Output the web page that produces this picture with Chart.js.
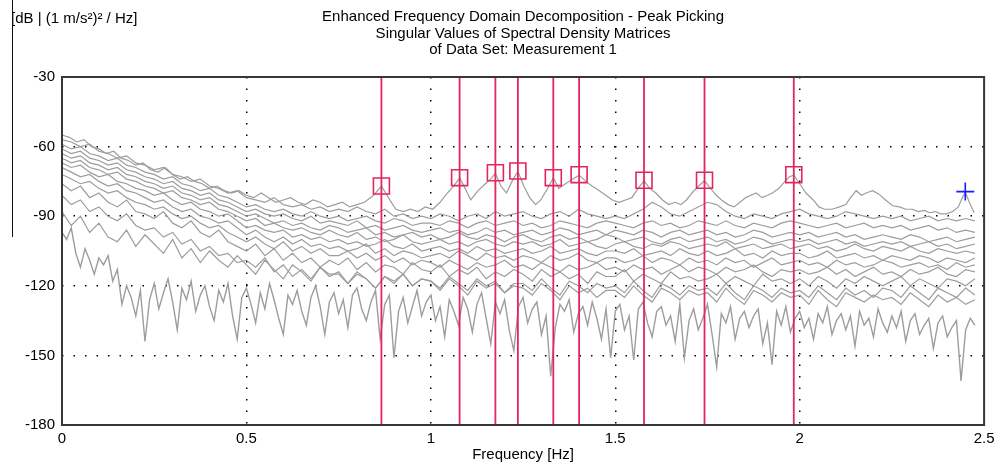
<!DOCTYPE html>
<html><head><meta charset="utf-8">
<script src="https://cdn.jsdelivr.net/npm/chart.js@4"></script>
<style>
html,body{margin:0;padding:0;background:#fff;}
#wrap{position:relative;width:997px;height:464px;}
#edge{position:absolute;left:12px;top:0;width:1px;height:237px;background:#111;}
</style>
</head><body>
<div id="wrap"><canvas id="c" width="997" height="464"></canvas><div id="edge"></div></div>
<script>
// ---------------- data ----------------
const titleLines = ['Enhanced Frequency Domain Decomposition - Peak Picking','Singular Values of Spectral Density Matrices','of Data Set: Measurement 1'];
const yUnitLabel = '[dB | (1 m/s\u00b2)\u00b2 / Hz]';
const xTitle = 'Frequency [Hz]';
const xTicks = [0, 0.5, 1, 1.5, 2, 2.5];
const yTicks = [-180, -150, -120, -90, -60, -30];

// picked peaks (red lines + squares)
const peakFreqs  = [0.866, 1.078, 1.175, 1.236, 1.332, 1.402, 1.578, 1.742, 1.984];
const peakLevels = [-77.0, -73.4, -71.3, -70.5, -73.4, -72.1, -74.5, -74.5, -72.1];
// cursor (blue cross)
const cursorFreq = [2.449];
const cursorLevel = [-79.4];

// first singular value
const sv1Freqs = [0,0.02,0.04,0.06,0.08,0.1,0.12,0.14,0.16,0.18,0.2,0.22,0.24,0.26,0.28,0.3,0.32,0.34,0.36,0.38,
0.4,0.42,0.44,0.46,0.48,0.5,0.52,0.54,0.56,0.58,0.6,0.62,0.64,0.66,0.68,0.7,0.72,0.74,0.76,0.78,
0.8,0.82,0.845,0.866,0.885,0.905,0.925,0.945,0.965,0.985,1.005,1.025,1.045,1.062,1.078,1.093,1.108,1.128,1.148,1.162,
1.175,1.19,1.205,1.22,1.236,1.252,1.268,1.284,1.298,1.313,1.332,1.347,1.365,1.385,1.402,1.42,1.437,1.457,1.474,1.492,
1.51,1.528,1.545,1.562,1.578,1.593,1.61,1.628,1.645,1.662,1.678,1.693,1.708,1.726,1.742,1.758,1.774,1.788,1.806,1.822,
1.838,1.854,1.868,1.882,1.898,1.913,1.926,1.944,1.96,1.972,1.984,2.0,2.017,2.037,2.052,2.068,2.088,2.108,2.125,2.138,
2.153,2.168,2.18,2.198,2.215,2.233,2.252,2.27,2.288,2.305,2.322,2.338,2.352,2.368,2.383,2.398,2.415,2.43,2.441,2.449,2.46,2.473];
const sv1 = [-55,-56,-58,-57,-60,-61,-63,-62,-65,-66,-68,-67,-70,-71,-69,-72,-74,-73,-75,-76,
-78,-77,-79,-80,-79,-81,-82,-80,-82,-84,-83,-82,-84,-85,-83,-84,-86,-85,-84,-86,
-85,-84,-81,-77,-82,-87,-88,-87,-88,-86,-87,-84,-80,-77,-73.5,-78,-83,-79,-76,-74,
-71.5,-77,-80,-75,-70.7,-77,-82,-85,-83,-79,-73.5,-78,-76,-74,-72.3,-75,-77,-79,-81,-83,
-84,-83,-82,-78,-74.7,-78,-80,-83,-85,-84,-85,-83,-80,-77,-74.7,-78,-81,-83,-85,-86,
-84,-82,-81,-80,-82,-81,-80,-78,-75,-73,-72.3,-76,-80,-83,-86,-87,-87,-86,-85,-82,
-79,-81,-80,-79,-80.5,-83,-85.5,-86,-87,-87,-88,-87.5,-88.5,-88,-89,-89,-88,-86,-82,-79.6,-84,-88.5];

// frequency bins of the other singular values
const freqs = [0,0.025,0.05,0.075,0.1,0.125,0.15,0.175,0.2,0.225,0.25,0.275,0.3,0.325,0.35,0.375,0.4,0.425,0.45,0.475,
0.5,0.525,0.55,0.575,0.6,0.625,0.65,0.675,0.7,0.725,0.75,0.775,0.8,0.825,0.85,0.875,0.9,0.925,0.95,0.975,
1,1.025,1.05,1.075,1.1,1.125,1.15,1.175,1.2,1.225,1.25,1.275,1.3,1.325,1.35,1.375,1.4,1.425,1.45,1.475,
1.5,1.525,1.55,1.575,1.6,1.625,1.65,1.675,1.7,1.725,1.75,1.775,1.8,1.825,1.85,1.875,1.9,1.925,1.95,1.975,
2,2.025,2.05,2.075,2.1,2.125,2.15,2.175,2.2,2.225,2.25,2.275,2.3,2.325,2.35,2.375,2.4,2.425,2.45,2.475];

const sv2 = [-57,-58,-60,-59,-62,-63,-65,-64,-67,-68,-70,-69,-72,-73,-75,-74,-77,-78,-80,-79,
-82,-83,-84,-82,-85,-86,-85,-87,-86,-88,-87,-88,-86,-88,-89,-87,-90,-89,-91,-90,
-91,-89,-90,-92,-90,-89,-91,-88,-90,-89,-88,-90,-91,-89,-88,-90,-87,-89,-90,-91,
-90,-91,-89,-87,-84,-86,-89,-90,-88,-86,-84,-85,-88,-90,-91,-89,-90,-91,-89,-88,
-87,-89,-90,-91,-90,-88,-89,-90,-91,-90,-91,-90,-92,-91,-90,-92,-91,-92,-91,-92];
const sv3 = [-59,-61,-60,-63,-64,-66,-65,-68,-69,-71,-72,-74,-73,-76,-77,-79,-78,-81,-82,-84,
-86,-85,-87,-88,-87,-89,-90,-88,-90,-91,-90,-92,-91,-90,-92,-93,-91,-92,-94,-93,
-93,-94,-92,-93,-95,-93,-92,-94,-93,-92,-94,-93,-95,-94,-92,-93,-94,-95,-93,-92,
-93,-94,-95,-93,-92,-94,-93,-95,-94,-92,-93,-94,-92,-94,-95,-93,-94,-95,-93,-92,
-93,-94,-95,-94,-93,-95,-94,-93,-95,-94,-95,-94,-96,-95,-94,-96,-95,-97,-96,-97];
const sv4 = [-61,-63,-62,-65,-66,-68,-67,-70,-71,-73,-74,-76,-75,-78,-79,-81,-80,-83,-84,-86,
-88,-87,-89,-90,-89,-91,-92,-90,-93,-92,-93,-94,-92,-95,-94,-96,-95,-94,-96,-97,
-96,-95,-97,-96,-98,-97,-95,-97,-96,-98,-97,-96,-98,-97,-95,-96,-98,-97,-96,-98,
-96,-97,-98,-96,-97,-99,-97,-96,-98,-97,-96,-98,-97,-99,-98,-96,-97,-99,-98,-97,
-98,-97,-99,-98,-97,-99,-98,-100,-99,-98,-99,-100,-98,-99,-101,-100,-99,-101,-100,-99];
const sv5 = [-63,-65,-64,-67,-68,-70,-69,-72,-73,-75,-76,-78,-77,-80,-81,-83,-82,-85,-86,-88,
-90,-89,-91,-93,-92,-94,-93,-95,-96,-94,-95,-97,-96,-95,-98,-97,-99,-98,-97,-99,
-98,-100,-99,-97,-99,-100,-98,-99,-101,-99,-98,-100,-101,-99,-98,-100,-99,-101,-100,-98,
-99,-101,-100,-99,-101,-102,-100,-99,-101,-100,-99,-101,-100,-102,-101,-99,-100,-102,-101,-100,
-101,-100,-102,-101,-100,-102,-101,-103,-102,-101,-102,-101,-103,-102,-101,-103,-102,-104,-103,-102];
const sv6 = [-65,-67,-66,-69,-70,-72,-71,-74,-75,-77,-78,-80,-79,-82,-83,-85,-84,-87,-88,-90,
-92,-91,-94,-93,-95,-96,-95,-97,-98,-96,-98,-99,-97,-100,-99,-101,-100,-98,-101,-102,
-101,-100,-102,-101,-103,-101,-100,-102,-103,-101,-102,-101,-103,-102,-100,-103,-102,-101,-103,-104,
-102,-101,-103,-104,-102,-103,-101,-102,-104,-103,-102,-103,-101,-104,-103,-102,-104,-103,-102,-104,
-103,-102,-104,-103,-105,-104,-102,-104,-105,-103,-104,-105,-103,-105,-106,-104,-105,-106,-105,-106];
const sv7 = [-67,-69,-68,-71,-73,-72,-75,-76,-78,-79,-81,-80,-83,-85,-84,-87,-88,-90,-89,-92,
-95,-94,-96,-97,-96,-99,-98,-100,-99,-101,-100,-102,-101,-103,-102,-100,-103,-104,-102,-105,
-104,-103,-105,-104,-106,-103,-105,-104,-106,-105,-104,-106,-105,-103,-106,-105,-104,-106,-107,-105,
-105,-106,-104,-107,-106,-105,-107,-104,-106,-107,-105,-107,-106,-104,-107,-106,-108,-105,-107,-106,
-106,-108,-107,-105,-108,-107,-106,-108,-107,-109,-107,-108,-109,-107,-108,-110,-108,-109,-110,-108];
const sv8 = [-69,-71,-73,-72,-75,-77,-76,-79,-80,-82,-84,-83,-86,-88,-87,-90,-91,-93,-92,-95,
-98,-96,-99,-101,-99,-102,-100,-103,-102,-104,-103,-105,-104,-102,-106,-104,-107,-105,-106,-108,
-107,-106,-108,-105,-107,-109,-106,-108,-107,-109,-107,-108,-110,-107,-109,-108,-106,-109,-110,-108,
-108,-110,-109,-107,-110,-108,-109,-111,-108,-110,-109,-111,-108,-110,-109,-112,-110,-108,-111,-110,
-109,-111,-110,-112,-109,-111,-110,-112,-111,-109,-110,-112,-111,-110,-112,-111,-113,-110,-112,-111];
const sv9 = [-72,-74,-76,-75,-78,-80,-79,-82,-84,-85,-87,-86,-89,-91,-90,-93,-95,-94,-97,-99,
-101,-99,-102,-104,-101,-105,-103,-106,-104,-107,-107,-105,-108,-106,-109,-107,-110,-108,-111,-109,
-110,-112,-109,-111,-113,-110,-112,-111,-109,-112,-111,-113,-110,-112,-114,-111,-113,-112,-110,-113,
-112,-114,-111,-113,-112,-115,-113,-111,-114,-112,-113,-115,-112,-114,-113,-111,-114,-116,-113,-114,
-113,-115,-114,-112,-115,-113,-116,-114,-112,-115,-114,-116,-113,-115,-114,-112,-115,-116,-113,-114];
const sv10 = [-76,-79,-77,-82,-80,-84,-86,-83,-88,-89,-91,-88,-93,-95,-92,-97,-99,-96,-101,-103,
-105,-102,-107,-104,-109,-106,-110,-108,-112,-109,-111,-108,-113,-110,-114,-111,-112,-115,-110,-113,
-114,-111,-116,-113,-115,-112,-117,-114,-116,-113,-115,-118,-113,-116,-114,-117,-115,-119,-114,-116,
-116,-113,-118,-115,-117,-119,-114,-117,-116,-118,-117,-115,-119,-116,-118,-120,-115,-118,-117,-119,
-117,-120,-116,-118,-121,-117,-119,-116,-118,-120,-118,-116,-120,-117,-119,-121,-117,-118,-120,-117];
const sv11 = [-81,-85,-83,-88,-86,-90,-92,-89,-94,-96,-95,-99,-97,-102,-100,-105,-103,-107,-106,-110,
-109,-112,-108,-114,-111,-116,-113,-117,-112,-115,-115,-119,-114,-117,-121,-116,-118,-115,-120,-117,
-118,-121,-116,-119,-122,-117,-120,-118,-123,-119,-119,-122,-117,-121,-124,-118,-120,-123,-119,-121,
-120,-123,-118,-122,-125,-119,-121,-124,-120,-122,-121,-124,-119,-123,-126,-120,-122,-125,-121,-123,
-122,-125,-120,-123,-126,-121,-124,-122,-125,-121,-122,-125,-120,-123,-126,-121,-123,-125,-121,-124];
const sv12 = [-88,-94,-90,-97,-93,-99,-101,-96,-103,-98,-102,-106,-100,-108,-104,-110,-105,-109,-112,-107,
-111,-115,-109,-113,-117,-111,-114,-118,-112,-116,-114,-119,-115,-117,-121,-116,-119,-115,-120,-117,
-118,-122,-117,-120,-124,-118,-121,-119,-123,-120,-121,-124,-119,-122,-126,-120,-123,-121,-125,-122,
-122,-125,-120,-124,-127,-121,-123,-126,-122,-124,-123,-127,-121,-125,-128,-122,-124,-127,-123,-125,
-124,-128,-122,-126,-129,-123,-125,-127,-124,-126,-125,-128,-123,-126,-129,-124,-127,-125,-128,-126];

// lowest singular value, finer bins
const freqsFine = [0,0.0125,0.025,0.0375,0.05,0.0625,0.075,0.0875,0.1,0.1125,
0.125,0.1375,0.15,0.1625,0.175,0.1875,0.2,0.2125,0.225,0.2375,
0.25,0.2625,0.275,0.2875,0.3,0.3125,0.325,0.3375,0.35,0.3625,
0.375,0.3875,0.4,0.4125,0.425,0.4375,0.45,0.4625,0.475,0.4875,
0.5,0.5125,0.525,0.5375,0.55,0.5625,0.575,0.5875,0.6,0.6125,
0.625,0.6375,0.65,0.6625,0.675,0.6875,0.7,0.7125,0.725,0.7375,
0.75,0.7625,0.775,0.7875,0.8,0.8125,0.825,0.8375,0.85,0.8625,
0.875,0.8875,0.9,0.9125,0.925,0.9375,0.95,0.9625,0.975,0.9875,
1,1.0125,1.025,1.0375,1.05,1.0625,1.075,1.0875,1.1,1.1125,
1.125,1.1375,1.15,1.1625,1.175,1.1875,1.2,1.2125,1.225,1.2375,
1.25,1.2625,1.275,1.2875,1.3,1.3125,1.325,1.3375,1.35,1.3625,
1.375,1.3875,1.4,1.4125,1.425,1.4375,1.45,1.4625,1.475,1.4875,
1.5,1.5125,1.525,1.5375,1.55,1.5625,1.575,1.5875,1.6,1.6125,
1.625,1.6375,1.65,1.6625,1.675,1.6875,1.7,1.7125,1.725,1.7375,
1.75,1.7625,1.775,1.7875,1.8,1.8125,1.825,1.8375,1.85,1.8625,
1.875,1.8875,1.9,1.9125,1.925,1.9375,1.95,1.9625,1.975,1.9875,
2,2.0125,2.025,2.0375,2.05,2.0625,2.075,2.0875,2.1,2.1125,
2.125,2.1375,2.15,2.1625,2.175,2.1875,2.2,2.2125,2.225,2.2375,
2.25,2.2625,2.275,2.2875,2.3,2.3125,2.325,2.3375,2.35,2.3625,
2.375,2.3875,2.4,2.4125,2.425,2.4375,2.45,2.4625,2.475];
const sv13 = [-97,-100,-95,-106,-112,-104,-109,-115,-108,-111,
-107,-118,-113,-128,-120,-125,-133,-122,-144,-126,
-119,-130,-123,-117,-127,-139,-121,-126,-118,-131,
-124,-120,-129,-135,-122,-127,-119,-133,-143,-125,
-121,-128,-136,-123,-130,-119,-126,-134,-141,-124,
-128,-122,-131,-137,-125,-120,-129,-141,-127,-123,
-132,-126,-138,-124,-121,-130,-135,-127,-122,-143,
-128,-124,-151,-131,-125,-136,-129,-122,-133,-127,
-124,-135,-129,-142,-126,-131,-137,-125,-130,-140,
-128,-123,-134,-145,-127,-132,-126,-139,-148,-129,
-125,-136,-130,-127,-141,-133,-159,-138,-128,-131,
-126,-140,-132,-129,-137,-127,-134,-143,-130,-151,
-131,-128,-139,-133,-152,-130,-127,-136,-142,-131,
-129,-137,-133,-144,-128,-151,-135,-130,-139,-134,
-128,-141,-155,-132,-136,-129,-143,-134,-131,-138,
-133,-130,-145,-136,-154,-131,-137,-129,-140,-134,
-131,-138,-134,-143,-132,-136,-129,-141,-135,-132,
-139,-133,-146,-131,-137,-134,-142,-130,-136,-140,
-133,-138,-131,-144,-135,-132,-141,-137,-134,-147,
-136,-133,-142,-138,-135,-161,-139,-134,-137];

// ---------------- styles ----------------
const FONT = '"Liberation Sans", Arial, Helvetica, sans-serif';
const FS = 15;
const GRAY = '#9d9d9d';
const RED = '#e3265c';
const BLUE = '#1a1aff';

const toPts = (xs, ys) => xs.map((x, i) => ({x: x, y: ys[i]}));
const yMin = yTicks[0], yMax = yTicks[yTicks.length - 1];

const datasets = [];
datasets.push({type:'scatter', data: toPts(peakFreqs, peakLevels), pointStyle:'rect', pointRadius:11.3,
  pointBorderColor: RED, pointBackgroundColor:'rgba(0,0,0,0)', pointBorderWidth:1.6, order:0});
datasets.push({type:'scatter', data: toPts(cursorFreq, cursorLevel), pointStyle:'cross', pointRadius:9,
  pointBorderColor: BLUE, pointBorderWidth:1.6, order:0});
peakFreqs.forEach(f => {
  datasets.push({type:'line', data:[{x:f, y:yMin},{x:f, y:yMax}], borderColor: RED, borderWidth:1.8,
    pointRadius:0, order:1});
});
datasets.push({type:'line', data: toPts(sv1Freqs, sv1), borderColor: GRAY, borderWidth:1.2, pointRadius:0, order:2});
[sv2, sv3, sv4, sv5, sv6, sv7, sv8, sv9, sv10, sv11, sv12].forEach(s => {
  datasets.push({type:'line', data: toPts(freqs, s), borderColor: GRAY, borderWidth:1.2, pointRadius:0, order:2});
});
datasets.push({type:'line', data: toPts(freqsFine, sv13), borderColor: GRAY, borderWidth:1.4, pointRadius:0, order:2});

const edgeGrid = (ctx, n) => (ctx.index === 0 || ctx.index === n - 1) ? 'rgba(0,0,0,0)' : '#000';

const framePlugin = {
  id: 'frame',
  afterDraw(chart) {
    const {ctx, chartArea: a} = chart;
    ctx.save();
    ctx.strokeStyle = '#383838';
    ctx.lineWidth = 2;
    ctx.strokeRect(a.left, a.top, a.right - a.left, a.bottom - a.top);
    ctx.fillStyle = '#000';
    ctx.font = FS + 'px ' + FONT;
    ctx.textAlign = 'left';
    ctx.textBaseline = 'middle';
    ctx.fillText(yUnitLabel, 11, 19);
    ctx.restore();
  }
};

new Chart(document.getElementById('c'), {
  type: 'line',
  data: { datasets },
  plugins: [framePlugin],
  options: {
    responsive: false,
    animation: false,
    events: [],
    layout: { padding: { top: 8.4, right: 10, bottom: 0, left: 0 } },
    plugins: {
      legend: { display: false },
      tooltip: { enabled: false },
      title: { display: true, text: titleLines, fullSize: false, color: '#000',
        font: { family: FONT, size: FS, weight: 'normal', lineHeight: 1.111 },
        padding: { top: 0, bottom: 18.6 } }
    },
    scales: {
      x: {
        type: 'linear', min: xTicks[0], max: xTicks[xTicks.length - 1],
        afterFit(s) { s.height = 39; s.paddingRight = 0; s.paddingLeft = 0; },
        afterBuildTicks(s) { s.ticks = xTicks.map(v => ({value: v})); },
        ticks: { color: '#000', padding: 5, maxRotation: 0, font: { family: FONT, size: FS },
          callback: v => String(v) },
        grid: { drawTicks: false, lineWidth: 1.5, color: c => edgeGrid(c, xTicks.length) },
        border: { display: false, dash: [1.5, 10] },
        title: { display: true, text: xTitle, color: '#000', font: { family: FONT, size: FS }, padding: { top: 0, bottom: 0 } }
      },
      y: {
        type: 'linear', min: yMin, max: yMax,
        afterFit(s) { s.width = 62; s.paddingTop = 0; s.paddingBottom = 0; },
        afterBuildTicks(s) { s.ticks = yTicks.map(v => ({value: v})); },
        ticks: { color: '#000', padding: 7, font: { family: FONT, size: FS }, callback: v => String(v) },
        grid: { drawTicks: false, lineWidth: 1.5, color: c => edgeGrid(c, yTicks.length) },
        border: { display: false, dash: [1.5, 10] }
      }
    }
  }
});
</script>
</body></html>
